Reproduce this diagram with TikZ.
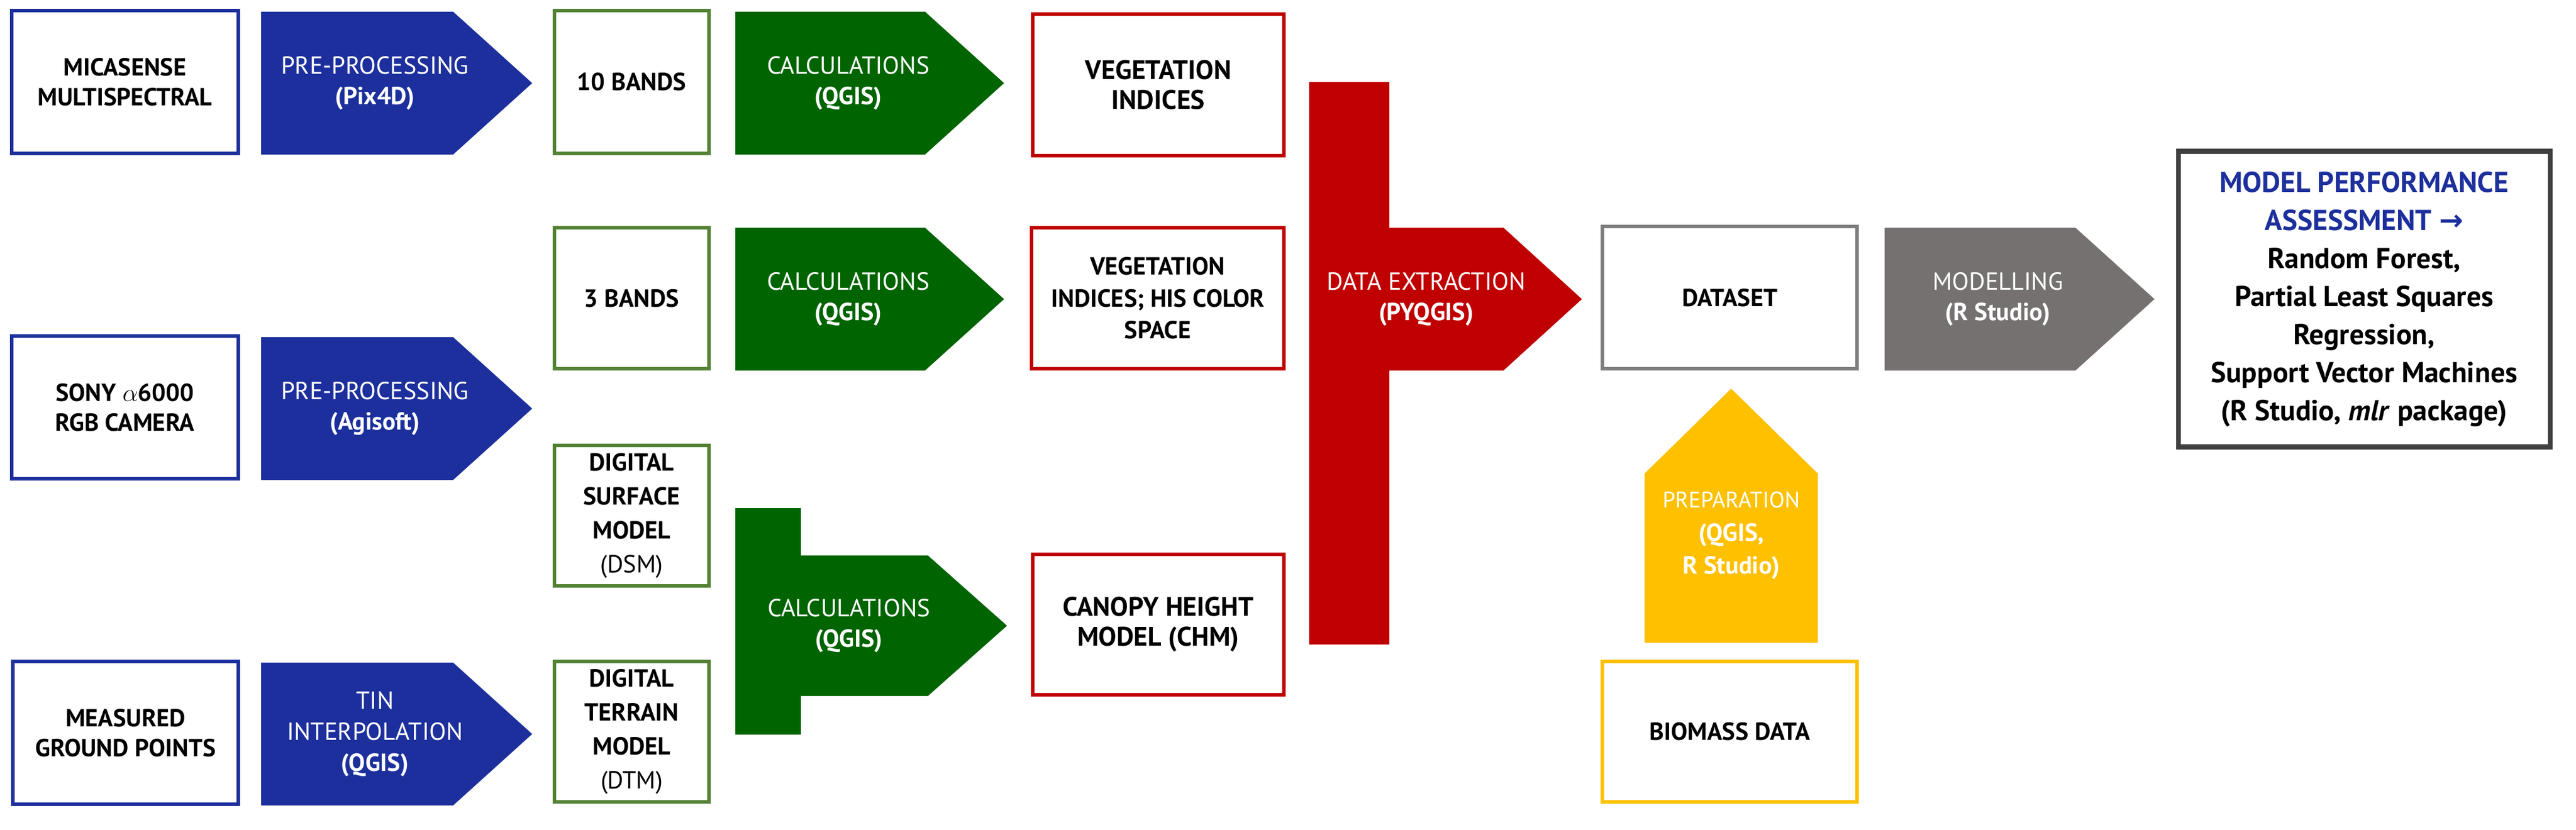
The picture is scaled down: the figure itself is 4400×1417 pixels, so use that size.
\documentclass[tikz,border=0pt]{standalone}
\usepackage{fontspec}
\setmainfont{PT Sans}
\newfontfamily\arrfont{DejaVu Sans}
\definecolor{cblue}{HTML}{1C2F9C}
\definecolor{cgreen}{HTML}{006400}
\definecolor{cgreenb}{HTML}{548235}
\definecolor{cred}{HTML}{C00000}
\definecolor{cgray}{HTML}{767171}
\definecolor{cgrayb}{HTML}{7F7F7F}
\definecolor{cyellow}{HTML}{FFC000}
\begin{document}
\begin{tikzpicture}[x=0.01cm,y=-0.01cm,
  box/.style={draw=#1,line width=1.7pt,fill=white,inner sep=0pt,align=center,font=\fontsize{12}{14.5}\selectfont\bfseries},
  wt/.style={text=white,align=center,font=\fontsize{12}{15}\selectfont}]
\useasboundingbox (0,0) rectangle (4400,1417);
\newcommand\bx[6]{\node[box=#1,minimum width={(#4-#2)*0.01cm},minimum height={(#5-#3)*0.01cm}] (#6) at ({(#2+#4)/2},{(#3+#5)/2})}
\bx{cblue}{20}{18}{407}{262}{mica} {MICASENSE\\MULTISPECTRAL};
\bx{cblue}{20}{574}{407}{818}{sony} {SONY $\alpha$6000\\RGB CAMERA};
\bx{cblue}{22}{1130}{407}{1374}{meas} {MEASURED\\GROUND POINTS};
\bx{cgreenb}{947}{18}{1211}{262}{b10} {10 BANDS};
\bx{cgreenb}{947}{389}{1211}{630}{b3} {3 BANDS};
\bx{cgreenb}{947}{761}{1211}{1001}{dsm} {DIGITAL\\[2pt]SURFACE\\[2pt]MODEL\\[2pt]\mdseries(DSM)};
\bx{cgreenb}{947}{1130}{1211}{1370}{dtm} {DIGITAL\\[2pt]TERRAIN\\[2pt]MODEL\\[2pt]\mdseries(DTM)};
\bx{cred}{1764}{24}{2193}{266}{vi} {\fontsize{13}{17}\selectfont VEGETATION\\\fontsize{13}{17}\selectfont INDICES};
\bx{cred}{1762}{389}{2193}{630}{vih} {VEGETATION\\[1pt]INDICES; HIS COLOR\\[1pt]SPACE};
\bx{cred}{1764}{947}{2193}{1187}{chm} {\fontsize{13}{17}\selectfont CANOPY HEIGHT\\\fontsize{13}{17}\selectfont MODEL (CHM)};
\bx{cgrayb}{2737}{387}{3172}{630}{ds} {DATASET};
\bx{cyellow}{2737}{1130}{3172}{1370}{bio} {BIOMASS DATA};
\node[draw=black!75,line width=2.3pt,minimum width=635*0.01cm,minimum height=505*0.01cm,align=center,inner sep=0pt,
  font=\fontsize{14}{18.5}\selectfont\bfseries] (mpa) at (4038,511)
  {\textcolor{cblue}{MODEL PERFORMANCE}\\\textcolor{cblue}{ASSESSMENT {\arrfont\bfseries →}}\\Random Forest,\\Partial Least Squares\\Regression,\\Support Vector Machines\\(R Studio, \textit{mlr} package)};
\newcommand\arr[6]{\fill[#1] (#2,#4) -- (#3-135,#4) -- (#3,{(#4+#5)/2}) -- (#3-135,#5) -- (#2,#5) -- cycle;
  \node[wt] (#6) at ({#2+(#3-#2)*0.42},{(#4+#5)/2})}
\arr{cblue}{446}{909}{20}{264}{pp1} {PRE-PROCESSING\\\bfseries(Pix4D)};
\arr{cblue}{446}{909}{576}{820}{pp2} {PRE-PROCESSING\\\bfseries(Agisoft)};
\arr{cblue}{446}{909}{1132}{1376}{tin} {TIN\\INTERPOLATION\\\bfseries(QGIS)};
\arr{cgreen}{1256}{1715}{20}{264}{c1} {CALCULATIONS\\\bfseries(QGIS)};
\arr{cgreen}{1256}{1715}{389}{633}{c2} {CALCULATIONS\\\bfseries(QGIS)};
\arr{cgray}{3219}{3680}{389}{633}{mod} {MODELLING\\\bfseries(R Studio)};
\fill[cgreen] (1256,868) -- (1368,868) -- (1368,949) -- (1585,949) -- (1720,1069) -- (1585,1189) -- (1368,1189) -- (1368,1255) -- (1256,1255) -- cycle;
\node[wt] (c3) at (1450,1069) {CALCULATIONS\\\bfseries(QGIS)};
\fill[cred] (2236,140) -- (2373,140) -- (2373,389) -- (2568,389) -- (2702,511) -- (2568,633) -- (2373,633) -- (2373,1101) -- (2236,1101) -- cycle;
\node[wt] (dx) at (2436,511) {DATA EXTRACTION\\\bfseries(PYQGIS)};
\fill[cyellow] (2809,1098) -- (2809,809) -- (2957,664) -- (3105,809) -- (3105,1098) -- cycle;
\node[wt,font=\fontsize{11}{16}\selectfont] (prep) at (2957,915) {PREPARATION\\\bfseries\fontsize{12}{16}\selectfont(QGIS,\\\bfseries\fontsize{12}{16}\selectfont R Studio)};
\end{tikzpicture}
\end{document}
